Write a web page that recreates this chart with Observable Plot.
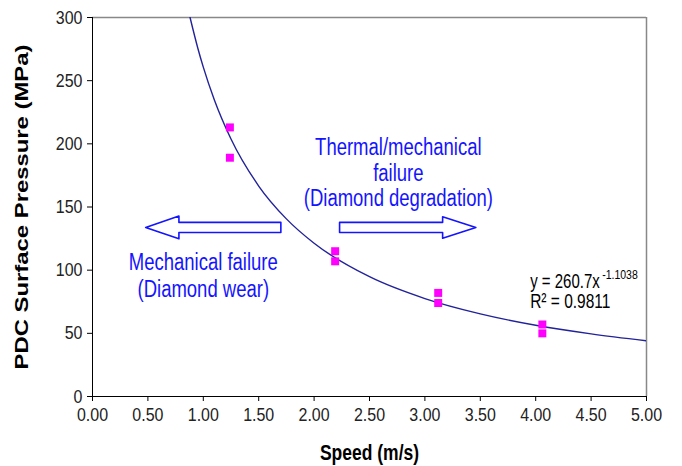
<!DOCTYPE html>
<html><head><meta charset="utf-8">
<script src="https://cdn.jsdelivr.net/npm/d3@7"></script>
<script src="https://cdn.jsdelivr.net/npm/@observablehq/plot@0.6"></script>
<style>
body{margin:0;background:#fff;}
#chart svg{font-family:"Liberation Sans",Arial,sans-serif;overflow:visible;}
#chart g[aria-label="y-axis label"] text,#chart g[aria-label="x-axis label"] text{font-weight:bold;font-size:17.5px;fill:#000;}
</style></head><body><div id="chart"></div>
<script>
// measured points
const speed    = [1.24, 1.24, 2.19, 2.19, 3.12, 3.12, 4.06, 4.06];
const pressure = [213, 189, 115, 107, 82, 74, 57, 50];
// trend line
const fitSpeed    = [0.88, 0.95, 1.0, 1.1, 1.25, 1.5, 1.75, 2.0, 2.5, 3.0, 3.5, 4.0, 4.5, 5.0];
const fitPressure = [300.2, 275.9, 260.7, 234.7, 203.8, 166.6, 140.6, 121.3, 94.8, 77.5, 65.4, 56.4, 49.6, 44.1];
const xTicks = [0, 0.5, 1, 1.5, 2, 2.5, 3, 3.5, 4, 4.5, 5];
const yTicks = [0, 50, 100, 150, 200, 250, 300];
// annotation labels
const leftLabel  = ["Mechanical failure", "(Diamond wear)"];
const rightLabel = ["Thermal/mechanical", "failure", "(Diamond degradation)"];
const eqMain = "y = 260.7x";
const eqExp = "-1.1038";
const r2Label = "R² = 0.9811";

const points = speed.map((s, i) => ({s, p: pressure[i]}));
const fit = fitSpeed.map((s, i) => ({s, p: fitPressure[i]}));

// block arrows (built from tail, head base, tip, and centre)
function blockArrow(tail, base, tip, yc, shaft, head) {
  return [
    [tail, yc + shaft], [base, yc + shaft], [base, yc + head], [tip, yc],
    [base, yc - head], [base, yc - shaft], [tail, yc - shaft], [tail, yc + shaft]
  ].map(([s, p]) => ({s, p}));
}
const arrowL = blockArrow(1.70, 0.78, 0.48, 133.8, 4, 9);
const arrowR = blockArrow(2.23, 3.16, 3.46, 133.8, 4, 8.5);

const blue = "#1414ff";
const chart = Plot.plot({
  width: 682, height: 466,
  marginLeft: 92, marginRight: 36, marginTop: 17, marginBottom: 70,
  style: {fontFamily: '"Liberation Sans", Arial, sans-serif', color: "#222", background: "#fff"},
  x: {domain: [0, 5]},
  y: {domain: [0, 300]},
  marks: [
    Plot.ruleY([300], {stroke: "#888", strokeWidth: 1.5}),
    Plot.ruleX([5], {stroke: "#888", strokeWidth: 1.5}),
    Plot.axisX({ticks: xTicks, tickFormat: d3.format(".2f"), tickSize: 5, tickPadding: 7, fontSize: 16, stroke: "#000",
      label: "Speed (m/s)", labelAnchor: "center", labelOffset: 62, labelArrow: "none"}),
    Plot.axisY({ticks: yTicks, tickSize: 5, tickPadding: 5, fontSize: 16, stroke: "#000",
      label: "PDC Surface Pressure (MPa)", labelAnchor: "center", labelOffset: 77, labelArrow: "none"}),
    Plot.ruleX([0], {stroke: "#000"}),
    Plot.ruleY([0], {stroke: "#000"}),
    Plot.line(arrowL, {x: "s", y: "p", stroke: blue, strokeWidth: 1.6, curve: "linear"}),
    Plot.line(arrowR, {x: "s", y: "p", stroke: blue, strokeWidth: 1.6, curve: "linear"}),
    Plot.line(fit, {x: "s", y: "p", stroke: "#22229a", strokeWidth: 1.4, curve: "monotone-x", clip: true}),
    Plot.dot(points, {x: "s", y: "p", symbol: "square", r: 4.5, fill: "#ff00ff", stroke: "none"}),
    Plot.text(leftLabel, {x: 1.0, y: (d, i) => [106, 85][i], text: d => d, fill: blue, fontSize: 18.5}),
    Plot.text(rightLabel, {x: 2.76, y: (d, i) => [197.5, 177, 157][i], text: d => d, fill: blue, fontSize: 18.5}),
    Plot.text([eqMain], {x: 3.95, y: 91, text: d => d, textAnchor: "start", fill: "#000", fontSize: 15}),
    Plot.text([eqExp], {x: 3.95, y: 91, text: d => d, textAnchor: "start", dx: 72, dy: -7, fill: "#000", fontSize: 10.5}),
    Plot.text([r2Label], {x: 3.95, y: 75, text: d => d, textAnchor: "start", fill: "#000", fontSize: 15.5})
  ]
});
document.getElementById("chart").appendChild(chart);
// the reference picture is drawn vertically stretched: stretch glyphs the same way
const yLabel = chart.querySelector('g[aria-label="y-axis label"] text');
if (yLabel) { yLabel.setAttribute("textLength", 325); yLabel.setAttribute("lengthAdjust", "spacingAndGlyphs"); }
chart.querySelectorAll("text").forEach(t => {
  if (t === yLabel) return;
  const inTick = t.closest('g[aria-label="x-axis tick label"], g[aria-label="y-axis tick label"]');
  const s = inTick ? 1.18 : 1.3;
  const b = t.getBBox();
  const cy = b.y + b.height / 2;
  const tr = t.getAttribute("transform") || "";
  t.setAttribute("transform", `${tr} translate(0,${cy}) scale(1,${s}) translate(0,${-cy})`.trim());
});
</script></body></html>
